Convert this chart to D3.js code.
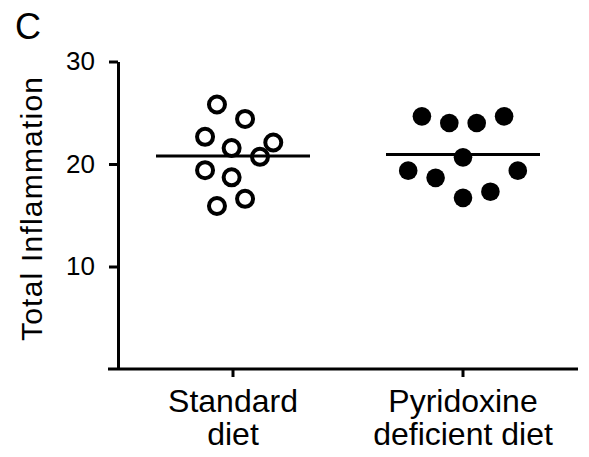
<!DOCTYPE html>
<html>
<head>
<meta charset="utf-8">
<script src="https://cdn.jsdelivr.net/npm/d3@7"></script>
<style>
  body { margin: 0; background: #fff; }
  svg { display: block; font-family: "Liberation Sans", Arial, sans-serif; }
</style>
</head>
<body>
<svg id="chart" width="589" height="457"></svg>
<script>
// data
const categories = ['Standard diet', 'Pyridoxine deficient diet'];
const categoryLines = [['Standard', 'diet'], ['Pyridoxine', 'deficient diet']];
const standardValues = [25.8, 24.4, 22.65, 21.55, 22.1, 20.7, 19.4, 18.7, 16.6, 15.9];
const standardJitter = [-1.17, 0.88, -2.04, -0.1, 2.94, 1.97, -2.04, -0.1, 0.88, -1.17];
const pyridoxineValues = [24.65, 24.0, 24.0, 24.65, 20.65, 19.35, 18.65, 19.35, 17.3, 16.7];
const pyridoxineJitter = [-3, -1, 1, 3, 0, -4, -2, 4, 2, 0];
const yTicks = [10, 20, 30];

const groups = [
  { name: categories[0], values: standardValues, jitter: standardJitter, filled: false },
  { name: categories[1], values: pyridoxineValues, jitter: pyridoxineJitter, filled: true },
];

const svg = d3.select('#chart');
const black = '#000';

const y = d3.scaleLinear().domain([0, 30]).range([369, 61.5]);
const x = d3.scaleBand().domain(categories).range([118, 578]).padding(0);
const jitter = d3.scaleLinear().domain([-1, 1]).range([-13.7, 13.7]);
const cx = (g) => x(g.name) + x.bandwidth() / 2;

// y axis
const yAxis = svg
  .append('g')
  .attr('transform', 'translate(118,0)')
  .call(d3.axisLeft(y).tickValues(yTicks).tickSize(9).tickSizeOuter(0).tickPadding(14));
yAxis.select('.domain').attr('stroke', black).attr('stroke-width', 3);
yAxis.selectAll('.tick line').attr('stroke', black).attr('stroke-width', 3);
yAxis
  .selectAll('.tick text')
  .attr('font-size', 26)
  .attr('font-family', '"Liberation Sans", Arial, sans-serif')
  .attr('fill', black);

// x axis
const xAxis = svg
  .append('g')
  .attr('transform', `translate(0,${y(0)})`)
  .call(d3.axisBottom(x).tickSize(8).tickSizeOuter(0).tickFormat(''));
xAxis.select('.domain').remove();
xAxis.selectAll('.tick line').attr('stroke', black).attr('stroke-width', 3);
svg
  .append('line')
  .attr('x1', 108)
  .attr('x2', x.range()[1])
  .attr('y1', y(0))
  .attr('y2', y(0))
  .attr('stroke', black)
  .attr('stroke-width', 3);

// category labels
categories.forEach((c, i) => {
  const t = svg
    .append('text')
    .attr('x', x(c) + x.bandwidth() / 2)
    .attr('y', 411.5)
    .attr('text-anchor', 'middle')
    .attr('font-size', 32)
    .attr('fill', black);
  categoryLines[i].forEach((line, j) => {
    t.append('tspan')
      .attr('x', x(c) + x.bandwidth() / 2)
      .attr('dy', j === 0 ? 0 : 33.5)
      .text(line);
  });
});

// y title
svg
  .append('text')
  .attr('transform', 'translate(42,209) rotate(-90)')
  .attr('text-anchor', 'middle')
  .attr('font-size', 30)
  .attr('textLength', 264)
  .attr('lengthAdjust', 'spacing')
  .attr('fill', black)
  .text('Total Inflammation');

// panel letter
svg.append('text').attr('x', 15).attr('y', 39).attr('font-size', 36).attr('fill', black).text('C');

// mean lines
groups.forEach((g) => {
  const m = d3.mean(g.values);
  svg
    .append('line')
    .attr('x1', cx(g) - 77)
    .attr('x2', cx(g) + 77)
    .attr('y1', y(m))
    .attr('y2', y(m))
    .attr('stroke', black)
    .attr('stroke-width', 3);
});

// points
groups.forEach((g) => {
  svg
    .append('g')
    .selectAll('circle')
    .data(g.values)
    .enter()
    .append('circle')
    .attr('cx', (d, i) => cx(g) + jitter(g.jitter[i]))
    .attr('cy', (d) => y(d))
    .attr('r', g.filled ? 9.3 : 8)
    .attr('fill', g.filled ? black : 'none')
    .attr('stroke', g.filled ? 'none' : black)
    .attr('stroke-width', g.filled ? 0 : 4);
});
</script>
</body>
</html>
